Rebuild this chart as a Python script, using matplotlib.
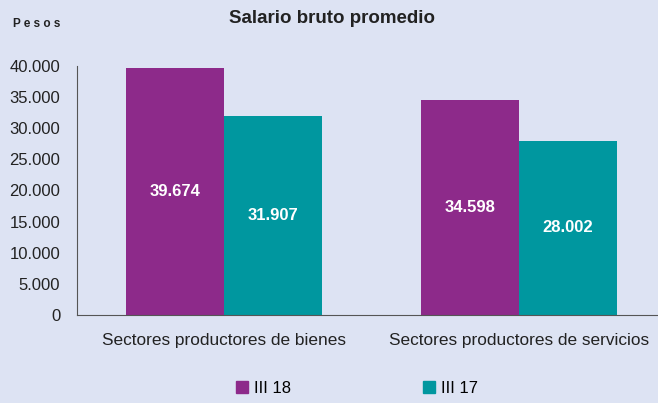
import numpy as np
import matplotlib.pyplot as plt
from matplotlib.patches import Patch

plt.rcParams['font.family'] = ['Liberation Sans', 'DejaVu Sans']

categorias = ["Sectores productores de bienes", "Sectores productores de servicios"]
series = ["III 18", "III 17"]
valores_18 = [39674, 34598]
valores_17 = [31907, 28002]

fondo = "#dde3f3"
colores = ["#8d2a8a", "#00979f"]

fig = plt.figure(figsize=(6.58, 4.03), dpi=100, facecolor=fondo)
ax = fig.add_axes([0.117, 0.2184, 0.895, 0.6178], facecolor=fondo)

x = np.arange(len(categorias))
w = 0.333
b1 = ax.bar(x - w/2, valores_18, w, color=colores[0])
b2 = ax.bar(x + w/2, valores_17, w, color=colores[1])

for barras in (b1, b2):
    for r in barras:
        v = r.get_height()
        ax.text(r.get_x() + r.get_width()/2, v/2, f"{v:,}".replace(",", "."),
                ha="center", va="center", color="white", fontsize=12, fontweight="bold")

ax.set_xlim(-0.5, 1.5)
ax.set_ylim(0, 40000)
ax.set_yticks(range(0, 40001, 5000))
ax.set_yticklabels([f"{t:,}".replace(",", ".") for t in range(0, 40001, 5000)])
ax.set_xticks(x)
ax.set_xticklabels(categorias)
ax.tick_params(axis="both", length=0, labelsize=12, colors="#222222")
ax.tick_params(axis="x", labelsize=12.4, pad=13)
ax.tick_params(axis="y", pad=12)
for s in ("top", "right"):
    ax.spines[s].set_visible(False)
ax.spines["left"].set_color("#555555")
ax.spines["bottom"].set_color("#555555")

fig.text(0.505, 0.953, "Salario bruto promedio", ha="center", va="center",
         fontsize=13.5, fontweight="bold", color="#222222")
fig.text(0.02, 0.94, "P e s o s", ha="left", va="center",
         fontsize=8.5, fontweight="bold", color="#222222")

handles = [Patch(color=c) for c in colores]
fig.legend(handles, series, loc="center", bbox_to_anchor=(0.543, 0.037), ncol=2,
           frameon=False, fontsize=12, handlelength=0.7, handleheight=0.7,
           handletextpad=0.4, columnspacing=7.9)

fig.savefig("out.png", dpi=100, facecolor=fondo)
